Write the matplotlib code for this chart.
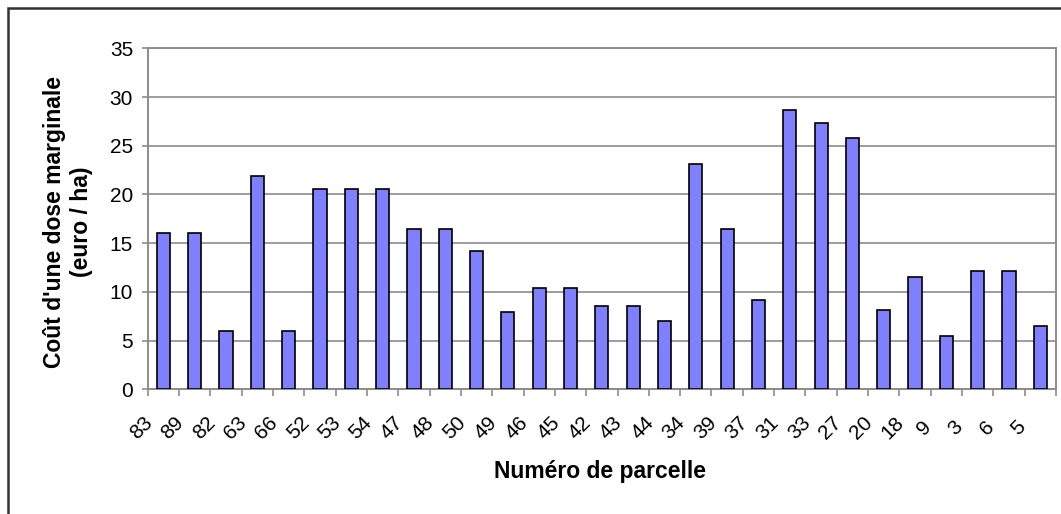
import matplotlib
matplotlib.use("Agg")
import matplotlib.pyplot as plt
from matplotlib.patches import Rectangle
from matplotlib.transforms import ScaledTranslation

# Parcel numbers and marginal dose cost (euro / ha)
parcelles = ["83", "89", "82", "63", "66", "52", "53", "54", "47", "48",
             "50", "49", "46", "45", "42", "43", "44", "34", "39", "37",
             "31", "33", "27", "20", "18", "9", "3", "6", "5"]
couts = [16.0, 16.0, 6.0, 21.9, 6.0, 20.6, 20.6, 20.6, 16.45, 16.45,
         14.15, 7.9, 10.4, 10.4, 8.55, 8.55, 7.05, 23.1, 16.45, 9.15,
         28.7, 27.3, 25.8, 8.15, 11.5, 5.45, 12.1, 12.1, 6.5]
y_ticks = [0, 5, 10, 15, 20, 25, 30, 35]

plt.rcParams["font.family"] = ["Liberation Sans", "DejaVu Sans"]

W, H, DPI = 1061, 514, 100
fig = plt.figure(figsize=(W / DPI, H / DPI), dpi=DPI)
ax = fig.add_axes([147.7 / W, 1 - 389.3 / H, (1056 - 147.7) / W, (389.3 - 48.3) / H])

grey = "#8c8c8c"
x = list(range(len(parcelles)))
ax.bar(x, couts, width=0.42, color="#8080ff", edgecolor="black",
       linewidth=1.2, zorder=3)

ax.set_xlim(-0.5, len(parcelles) - 0.5)
ax.set_ylim(0, 35)
ax.set_yticks(y_ticks)
ax.yaxis.grid(True, color=grey, linewidth=1.2, zorder=0)
ax.tick_params(axis="y", length=4.5, width=1.2, color=grey, pad=6,
               labelsize=15)

for s in ["left", "bottom", "right", "top"]:
    ax.spines[s].set_color(grey)
    ax.spines[s].set_linewidth(1.4)

# category labels centred under each bar, boundary ticks in between
ax.set_xticks(x)
ax.set_xticklabels(parcelles, rotation=45, ha="center", va="center",
                   rotation_mode="anchor", fontsize=15)
ax.tick_params(axis="x", which="major", length=0, pad=0)
ax.set_xticks([i - 0.5 for i in range(len(parcelles) + 1)], minor=True)
ax.tick_params(axis="x", which="minor", length=5, width=1.2, color=grey)
shift = ScaledTranslation(-0.22, -0.385, fig.dpi_scale_trans)
for lab in ax.get_xticklabels():
    lab.set_transform(lab.get_transform() + shift)

ax.set_xlabel("Numéro de parcelle", fontsize=16.5, fontweight="bold",
              va="center")
ax.xaxis.set_label_coords(0.4985, -0.2396)
ax.set_ylabel("Coût d'une dose marginale\n(euro / ha)", fontsize=16.5,
              fontweight="bold", va="center", ha="center", linespacing=1.2)
ax.yaxis.set_label_coords(-0.0875, 0.49)

# outer frame around the whole chart
fig.add_artist(Rectangle((7.5 / W, -0.2), 1.2, 1.2 - 7.5 / H,
                         transform=fig.transFigure, fill=False,
                         edgecolor="#333333", linewidth=1.8))

fig.savefig("out.png", dpi=DPI)
